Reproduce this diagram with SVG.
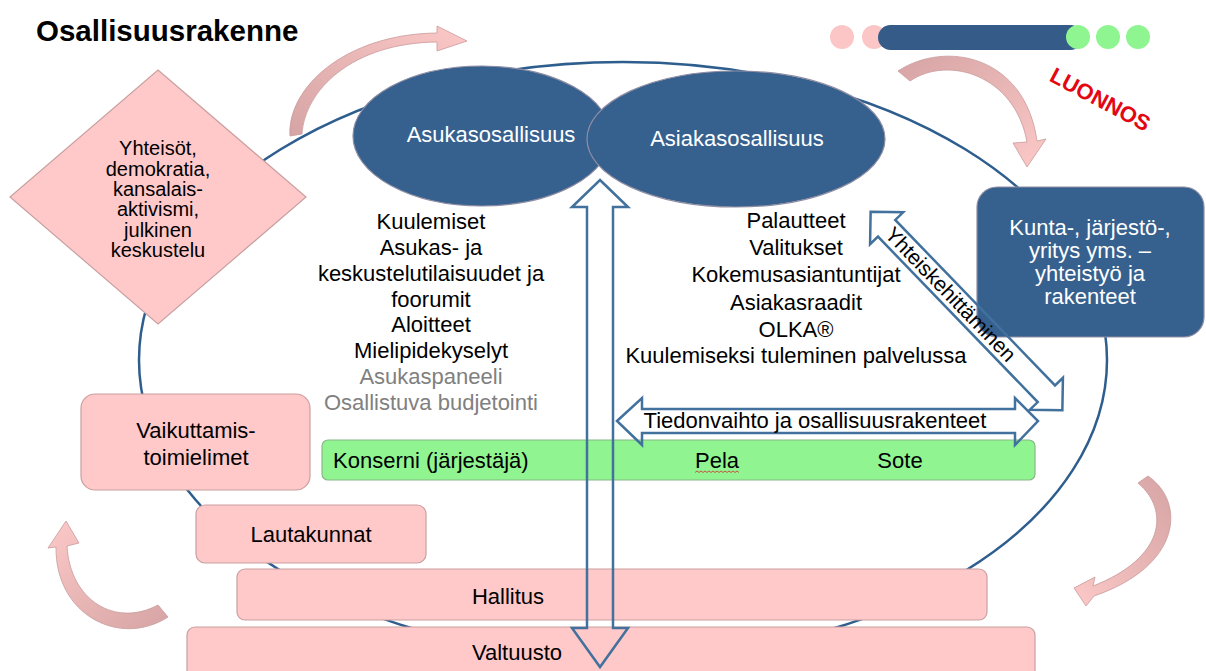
<svg xmlns="http://www.w3.org/2000/svg" width="1206" height="671" viewBox="0 0 1206 671">
<style>
.t{font-family:"Liberation Sans",Arial,sans-serif;font-size:22px;fill:#000;text-anchor:middle}
.w{fill:#fff}
.g{fill:#808080}
.pink{fill:#ffc9c9;stroke:#c9a0a0;stroke-width:1.2}
.blue{fill:#36618f;stroke:#8f8ea3;stroke-width:1.2}
.green{fill:#90f490;stroke:#86b886;stroke-width:1.2}
.blk{fill:none;stroke:#41719c;stroke-width:2.5;stroke-linejoin:miter}
.curv{stroke:#c99a9a;stroke-width:0.8}
</style>
<defs>
<linearGradient id="g1" x1="0" y1="1" x2="1" y2="0"><stop offset="0" stop-color="#d6a4a4"/><stop offset="1" stop-color="#fcc8c8"/></linearGradient>
<linearGradient id="g2" x1="0" y1="0" x2="1" y2="1"><stop offset="0" stop-color="#d6a4a4"/><stop offset="1" stop-color="#fcc8c8"/></linearGradient>
<linearGradient id="g3" x1="1" y1="0" x2="0" y2="1"><stop offset="0" stop-color="#d6a4a4"/><stop offset="1" stop-color="#fcc8c8"/></linearGradient>
<linearGradient id="g4" x1="1" y1="1" x2="0" y2="0"><stop offset="0" stop-color="#d6a4a4"/><stop offset="1" stop-color="#fcc8c8"/></linearGradient>
</defs>
<rect width="1206" height="671" fill="#fff"/>

<g id="title"><text x="36" y="41" style="font-family:'Liberation Sans',Arial,sans-serif;font-size:29.5px;font-weight:bold">Osallisuusrakenne</text></g>

<g id="progress">
<circle cx="842" cy="37" r="12" fill="#fcc6c6"/>
<circle cx="874" cy="37" r="12" fill="#fcc6c6"/>
<rect x="878" y="25" width="205" height="25" rx="12.5" fill="#355c88"/>
<circle cx="1078" cy="37" r="12" fill="#8ff590"/>
<circle cx="1108" cy="37" r="12" fill="#8ff590"/>
<circle cx="1138" cy="37" r="12" fill="#8ff590"/>
</g>

<g id="luonnos"><text transform="translate(1100 100) rotate(28)" x="0" y="7" style="font-family:'Liberation Sans',Arial,sans-serif;font-size:22px;font-weight:bold;fill:#e30613;text-anchor:middle">LUONNOS</text></g>

<g id="big-ellipse"><ellipse cx="623" cy="360" rx="484" ry="298" fill="none" stroke="#2e5e8e" stroke-width="2.5"/></g>

<g id="cycle-arrows" class="curv">
<path fill="url(#g1)" d="M 290 136 C 287 88, 345 34, 437 33 L 437 26 L 467 41 L 437 51 L 437 42 C 352 43, 305 90, 302 134 Z"/>
<path fill="url(#g2)" d="M 898 71 C 945 40, 1025 55, 1037 141 L 1046 139 L 1027 167 L 1013 143 L 1027 142 C 1015 75, 948 55, 910 81 Z"/>
<path fill="url(#g3)" d="M 1148 476 C 1186 502, 1182 566, 1094 596 L 1086 606 L 1074 588 L 1095 577 L 1093 586 C 1165 558, 1170 510, 1138 483 Z"/>
<path fill="url(#g4)" d="M 168 617 C 120 648, 55 615, 56 547 L 48 548 L 66 521 L 79 543 L 67 546 C 70 600, 115 628, 158 605 Z"/>
</g>

<g id="yhteisot">
<polygon class="pink" points="158,70 306,197 158,324 10,197"/>
<text class="t" style="font-size:20px"><tspan x="158" y="155">Yhteisöt,</tspan><tspan x="158" y="175.5">demokratia,</tspan><tspan x="158" y="196">kansalais-</tspan><tspan x="158" y="216">aktivismi,</tspan><tspan x="158" y="236.5">julkinen</tspan><tspan x="158" y="257">keskustelu</tspan></text>
</g>

<g id="asukasosallisuus">
<ellipse class="blue" cx="482" cy="136" rx="129" ry="70"/>
<text class="t w" x="491" y="142">Asukasosallisuus</text>
</g>

<g id="asiakasosallisuus">
<ellipse class="blue" cx="736" cy="139" rx="149" ry="68"/>
<text class="t w" x="737" y="146">Asiakasosallisuus</text>
</g>

<g id="kunta">
<rect class="blue" x="977" y="187" width="227" height="150" rx="20"/>
<text class="t w"><tspan x="1090" y="235">Kunta-, järjestö-,</tspan><tspan x="1090" y="258">yritys yms. –</tspan><tspan x="1090" y="281">yhteistyö ja</tspan><tspan x="1090" y="304">rakenteet</tspan></text>
</g>

<g id="asukas-list">
<text class="t"><tspan x="431" y="229">Kuulemiset</tspan><tspan x="431" y="255">Asukas- ja</tspan><tspan x="431" y="281">keskustelutilaisuudet ja</tspan><tspan x="431" y="307">foorumit</tspan><tspan x="431" y="332">Aloitteet</tspan><tspan x="431" y="358">Mielipidekyselyt</tspan><tspan class="g" x="431" y="384">Asukaspaneeli</tspan><tspan class="g" x="431" y="410">Osallistuva budjetointi</tspan></text>
</g>

<g id="asiakas-list">
<text class="t"><tspan x="796" y="228">Palautteet</tspan><tspan x="796" y="255">Valitukset</tspan><tspan x="796" y="282">Kokemusasiantuntijat</tspan><tspan x="796" y="310">Asiakasraadit</tspan><tspan x="796" y="337">OLKA®</tspan><tspan x="796" y="363">Kuulemiseksi tuleminen palvelussa</tspan></text>
</g>

<g id="vaikuttamistoimielimet">
<rect class="pink" x="81" y="394" width="229" height="96" rx="14"/>
<text class="t"><tspan x="196" y="438">Vaikuttamis-</tspan><tspan x="196" y="465">toimielimet</tspan></text>
</g>

<g id="lautakunnat">
<rect class="pink" x="196" y="505" width="230" height="58" rx="9"/>
<text class="t" x="311" y="542">Lautakunnat</text>
</g>

<g id="hallitus">
<rect class="pink" x="237" y="569" width="750" height="51" rx="8"/>
<text class="t" x="508" y="604">Hallitus</text>
</g>

<g id="valtuusto">
<rect class="pink" x="187" y="627" width="848" height="60" rx="8"/>
<text class="t" x="517" y="660">Valtuusto</text>
</g>

<g id="konserni">
<rect class="green" x="322" y="440" width="713" height="40" rx="6"/>
<text class="t" style="text-anchor:start" x="333" y="468">Konserni (järjestäjä)</text>
<text class="t" x="717" y="468">Pela</text>
<path d="M695 472.5 l2 -1.5 l2 1.5 l2 -1.5 l2 1.5 l2 -1.5 l2 1.5 l2 -1.5 l2 1.5 l2 -1.5 l2 1.5 l2 -1.5 l2 1.5 l2 -1.5 l2 1.5 l2 -1.5 l2 1.5 l2 -1.5 l2 1.5 l2 -1.5 l2 1.5 l2 -1.5 l2 1.5" fill="none" stroke="#d03030" stroke-width="0.8"/>
<text class="t" x="900" y="468">Sote</text>
</g>

<g id="connectors">
<polygon class="blk" points="600,180 628,207 613,207 613,628 628,628 600,667 572,628 587,628 587,207 572,207"/>
<g id="tiedonvaihto">
<polygon class="blk" points="617,421 642,398 642,409 1015,409 1015,398 1038,421 1015,445 1015,433 642,433 642,445"/>
<text class="t" x="815" y="428">Tiedonvaihto ja osallisuusrakenteet</text>
</g>
<g id="yhteiskehittaminen" transform="translate(966.5 311) rotate(46)">
<polygon class="blk" points="-138,0 -115,-23 -115,-12 115,-12 115,-23 138,0 115,23 115,12 -115,12 -115,23"/>
<text class="t" x="-23" y="7" style="font-size:21px">Yhteiskehittäminen</text>
</g>
</g>
</svg>
